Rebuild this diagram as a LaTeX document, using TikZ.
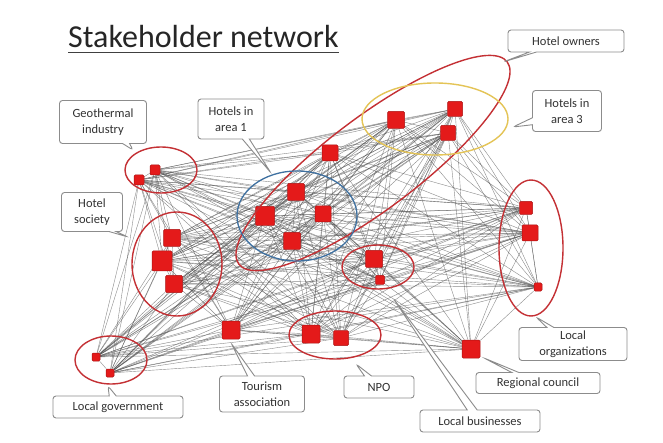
\documentclass[tikz,border=0pt]{standalone}
\usepackage{fontspec}
\setmainfont{Carlito}
\usetikzlibrary{shapes.callouts}
\pgfdeclarelayer{bg}
\pgfdeclarelayer{edges}
\pgfsetlayers{bg,edges,main}
\definecolor{sqred}{RGB}{228,26,26}
\definecolor{sqdark}{RGB}{170,20,20}
\definecolor{ellred}{RGB}{196,48,52}
\definecolor{ellyel}{RGB}{228,196,86}
\definecolor{ellblue}{RGB}{62,112,160}
\definecolor{boxline}{RGB}{140,140,140}
\definecolor{boxtext}{RGB}{50,50,50}
\begin{document}
\begin{tikzpicture}[x=1pt,y=-1pt,
  sq/.style={draw=sqdark, fill=sqred, rounded corners=1.2pt, line width=0.5pt, inner sep=0pt, minimum size=#1},
  sq/.default=16pt,
  edge/.style={draw=black!70, line width=0.4pt, opacity=0.65},
  ring/.style={draw=ellred, line width=1.4pt},
  callbox/.style={rectangle callout, draw=boxline, line width=0.9pt, fill=white, rounded corners=3pt,
    text=boxtext, font=\fontsize{12.5}{16}\selectfont, align=center, inner sep=2pt, callout pointer width=7pt}]
\useasboundingbox (0,0) rectangle (663,443);
\begin{pgfonlayer}{bg}
\fill[white] (0,0) rectangle (663,443);
\end{pgfonlayer}

% title
\node[anchor=base west, inner sep=0pt, font=\fontsize{32}{32}\selectfont, text=black!85] (title) at (68,48) {Stakeholder network};
\draw[line width=1.4pt, black!75] ([yshift=-4.5pt]title.base west) -- ([yshift=-4.5pt]title.base east);

% stakeholder squares
\node[sq=10pt] (g1) at (155,170) {};
\node[sq=10pt] (g2) at (139,180) {};
\node[sq=17pt] (s1) at (172,238) {};
\node[sq=20pt] (s2) at (162,261) {};
\node[sq=17pt] (s3) at (174,284) {};
\node[sq=17pt] (a1) at (296,192) {};
\node[sq=19pt] (a2) at (265,216) {};
\node[sq=16pt] (a3) at (323,214) {};
\node[sq=17pt] (a4) at (292,241) {};
\node[sq=16pt] (h1) at (330,153) {};
\node[sq=17pt] (h2) at (396,120) {};
\node[sq=15pt] (h3) at (455,109) {};
\node[sq=15pt] (h4) at (448,133) {};
\node[sq=17pt] (b1) at (374,259) {};
\node[sq=9pt]  (b2) at (380,280) {};
\node[sq=13pt] (o1) at (526,208) {};
\node[sq=16pt] (o2) at (530,233) {};
\node[sq=8pt]  (o3) at (538,287) {};
\node[sq=18pt] (r1) at (471,349) {};
\node[sq=18pt] (n1) at (311,334) {};
\node[sq=15pt] (n2) at (341,338) {};
\node[sq=18pt] (t1) at (231,330) {};
\node[sq=8pt]  (l1) at (96,357) {};
\node[sq=8pt]  (l2) at (110,373) {};

% network edges
\begin{pgfonlayer}{edges}
\foreach \u [count=\i] in {g1,g2,s1,s2,s3,a1,a2,a3,a4,h1,h2,h3,h4,b1,b2,o1,o2,o3,r1,n1,n2,t1,l1,l2}{
  \foreach \v [count=\j] in {g1,g2,s1,s2,s3,a1,a2,a3,a4,h1,h2,h3,h4,b1,b2,o1,o2,o3,r1,n1,n2,t1,l1,l2}{
    \ifnum\j>\i \draw[edge] (\u) -- (\v); \fi
  }
}
\end{pgfonlayer}

% group outlines
\draw[ring] (161,170) ellipse [x radius=36pt, y radius=23pt];
\draw[ring] (177,264) ellipse [x radius=45pt, y radius=52pt];
\draw[ring, rotate around={37:(373,163)}] (373,163) ellipse [x radius=168pt, y radius=46pt];
\draw[draw=ellyel, line width=1.4pt] (435,119) ellipse [x radius=73pt, y radius=36pt];
\draw[draw=ellblue, line width=1.3pt] (297,216) ellipse [x radius=60pt, y radius=45pt];
\draw[ring] (378,267) ellipse [x radius=36pt, y radius=22pt];
\draw[ring] (531,248) ellipse [x radius=32pt, y radius=68pt];
\draw[ring] (335,335) ellipse [x radius=46pt, y radius=24pt];
\draw[ring] (111,360) ellipse [x radius=36pt, y radius=24pt];

% callout pointer targets
\coordinate (pHO) at (503,62);
\coordinate (pH3) at (513,127);
\coordinate (pGI) at (133,150);
\coordinate (pH1) at (271,173);
\coordinate (pHS) at (128,237);
\coordinate (pLO) at (536,317);
\coordinate (pRC) at (484,358);
\coordinate (pLB) at (393,298);
\coordinate (pNP) at (356,364);
\coordinate (pTA) at (231,343);
\coordinate (pLG) at (108,386);

% callouts
\node[callbox, minimum width=116pt, minimum height=22pt, callout absolute pointer={(pHO)}] (HO) at (566,41) {Hotel owners};
\node[callbox, minimum width=69pt, minimum height=41pt, callout absolute pointer={(pH3)}] (H3) at (567,111) {Hotels in\\area 3};
\node[callbox, minimum width=87pt, minimum height=43pt, callout absolute pointer={(pGI)}] (GI) at (103,122) {Geothermal\\industry};
\node[callbox, minimum width=66pt, minimum height=40pt, callout absolute pointer={(pH1)}] (H1) at (231,119) {Hotels in\\area 1};
\node[callbox, minimum width=61pt, minimum height=39pt, callout absolute pointer={(pHS)}] (HS) at (92,212) {Hotel\\society};
\node[callbox, minimum width=108pt, minimum height=33pt, callout absolute pointer={(pLO)}] (LO) at (573,344) {Local\\organizations};
\node[callbox, minimum width=124pt, minimum height=21pt, callout absolute pointer={(pRC)}] (RC) at (538,383) {Regional council};
\node[callbox, minimum width=120pt, minimum height=22pt, callout absolute pointer={(pLB)}, callout pointer width=10pt] (LB) at (480,421) {Local businesses};
\node[callbox, minimum width=70pt, minimum height=22pt, callout absolute pointer={(pNP)}] (NP) at (379,387) {NPO};
\node[callbox, minimum width=85pt, minimum height=36pt, callout absolute pointer={(pTA)}] (TA) at (262,394) {Tourism\\association};
\node[callbox, minimum width=130pt, minimum height=22pt, callout absolute pointer={(pLG)}] (LG) at (118,407) {Local government};
\end{tikzpicture}
\end{document}
